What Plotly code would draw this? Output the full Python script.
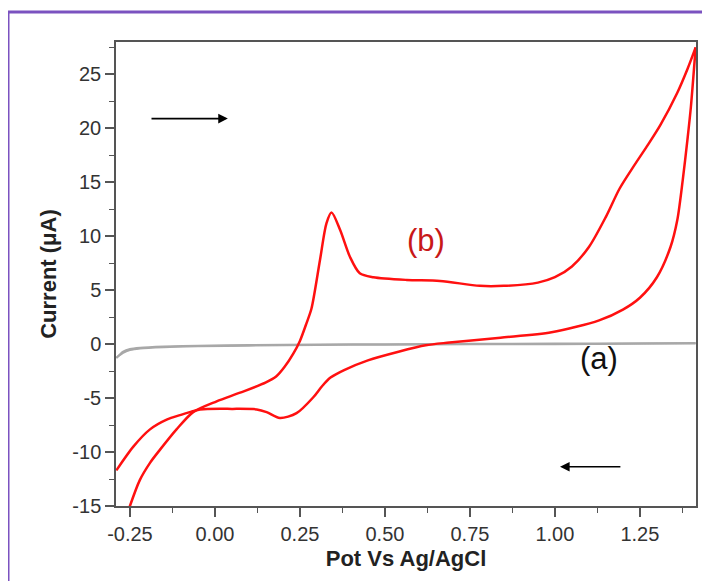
import plotly.graph_objects as go

# ---- data ----
fwd_x = [-0.255, -0.25, -0.221, -0.191, -0.162, -0.113, -0.064, 0.005, 0.074, 0.15, 0.18,
         0.205, 0.23, 0.25, 0.27, 0.284, 0.309, 0.328, 0.343, 0.368, 0.397, 0.426, 0.466,
         0.564, 0.662, 0.779, 0.85, 0.95, 1.0, 1.05, 1.10, 1.15, 1.19, 1.23, 1.27, 1.31,
         1.36, 1.39, 1.414]
fwd_y = [-15.5, -15.0, -12.6, -11.0, -9.8, -7.9, -6.3, -5.3, -4.5, -3.55, -3.0,
         -2.1, -0.9, 0.3, 2.0, 3.3, 7.8, 11.2, 12.2, 10.6, 8.1, 6.57, 6.2,
         5.95, 5.86, 5.4, 5.4, 5.7, 6.2, 7.2, 9.0, 11.8, 14.4, 16.4, 18.3, 20.3,
         23.3, 25.5, 27.5]

rev_x = [1.414, 1.40, 1.39, 1.376, 1.36, 1.34, 1.30, 1.25, 1.20, 1.13, 0.99, 0.84, 0.69,
         0.62, 0.54, 0.45, 0.38, 0.34, 0.315, 0.29, 0.24, 0.191, 0.152, 0.123, 0.05, -0.044,
         -0.074, -0.10, -0.142, -0.191, -0.24, -0.29]
rev_y = [27.5, 22.0, 19.0, 15.2, 11.5, 9.0, 6.2, 4.3, 3.2, 2.2, 1.1, 0.6, 0.15,
         -0.1, -0.7, -1.5, -2.4, -3.1, -3.9, -4.9, -6.4, -6.85, -6.3, -6.05, -6.0, -6.05,
         -6.3, -6.55, -7.0, -7.9, -9.5, -11.7]

blank_fx = [-0.29, -0.27, -0.25, -0.22, -0.15, -0.05, 0.1, 0.3, 0.5, 0.75, 1.0, 1.25, 1.414]
blank_fy = [-1.25, -0.8, -0.55, -0.4, -0.28, -0.2, -0.14, -0.09, -0.05, -0.02, 0.0, 0.03, 0.05]
blank_rx = [1.414, 1.25, 1.0, 0.75, 0.5, 0.3, 0.1, -0.05, -0.15, -0.22, -0.25, -0.27, -0.29]
blank_ry = [0.1, 0.08, 0.06, 0.03, 0.0, -0.04, -0.09, -0.14, -0.22, -0.33, -0.45, -0.7, -1.3]

x_tickvals = [-0.25, 0.0, 0.25, 0.5, 0.75, 1.0, 1.25]
x_ticktext = ["-0.25", "0.00", "0.25", "0.50", "0.75", "1.00", "1.25"]
y_tickvals = [-15, -10, -5, 0, 5, 10, 15, 20, 25]
y_ticktext = ["-15", "-10", "-5", "0", "5", "10", "15", "20", "25"]

FONT = "Liberation Sans, Arial, sans-serif"

fig = go.Figure()
for xs, ys in [(blank_fx, blank_fy), (blank_rx, blank_ry)]:
    fig.add_trace(go.Scatter(x=xs, y=ys, mode="lines",
                             line=dict(color="#a8a8a8", width=2, shape="spline", smoothing=0.8),
                             showlegend=False, hoverinfo="skip"))
for xs, ys in [(fwd_x, fwd_y), (rev_x, rev_y)]:
    fig.add_trace(go.Scatter(x=xs, y=ys, mode="lines",
                             line=dict(color="#ff1010", width=2.5, shape="spline", smoothing=0.8),
                             showlegend=False, hoverinfo="skip"))

axis_common = dict(showgrid=False, zeroline=False, showline=True, linecolor="#555555", linewidth=1.5,
                   mirror=True, ticks="outside", ticklen=9, tickwidth=1.5, tickcolor="#555555",
                   tickfont=dict(family=FONT, size=20, color="#333333"), automargin=False)

fig.update_xaxes(range=[-0.291, 1.415], tickvals=x_tickvals, ticktext=x_ticktext,
                 minor=dict(dtick=0.125, tick0=0, ticks="outside", ticklen=5, tickwidth=1.3, tickcolor="#555555"),
                 title=dict(text="<b>Pot Vs Ag/AgCl</b>", font=dict(family=FONT, size=22, color="#222222"), standoff=7),
                 **axis_common)
fig.update_yaxes(range=[-15, 28], tickvals=y_tickvals, ticktext=y_ticktext,
                 minor=dict(dtick=2.5, tick0=0, ticks="outside", ticklen=5, tickwidth=1.3, tickcolor="#555555"),
                 title=dict(text="<b>Current (μA)</b>", font=dict(family=FONT, size=22, color="#222222"), standoff=10),
                 **axis_common)

fig.add_annotation(x=0.622, y=9.65, text="(b)", showarrow=False,
                   font=dict(family=FONT, size=31, color="#c81818"))
fig.add_annotation(x=1.13, y=-1.3, text="(a)", showarrow=False,
                   font=dict(family=FONT, size=31, color="#111111"))

# direction arrows
fig.add_annotation(x=0.038, y=20.9, ax=-0.191, ay=20.9, xref="x", yref="y", axref="x", ayref="y", text="",
                   showarrow=True, arrowhead=2, arrowsize=1.2, arrowwidth=1.6, arrowcolor="#000000")
fig.add_annotation(x=1.015, y=-11.36, ax=1.197, ay=-11.36, xref="x", yref="y", axref="x", ayref="y", text="",
                   showarrow=True, arrowhead=2, arrowsize=1.2, arrowwidth=1.6, arrowcolor="#000000")

# purple frame around the image
fig.add_shape(type="rect", xref="paper", yref="paper", x0=-0.1862, x1=1.2, y0=-0.4, y1=1.0647,
              line=dict(color="#7b52c0", width=3), fillcolor="rgba(0,0,0,0)", layer="below")

# page body has an 8px margin, so the figure is offset by 8px in the window
fig.update_layout(width=702, height=573, margin=dict(l=108, r=14, t=34, b=75),
                  paper_bgcolor="white", plot_bgcolor="white")

fig.write_html("out.html")
